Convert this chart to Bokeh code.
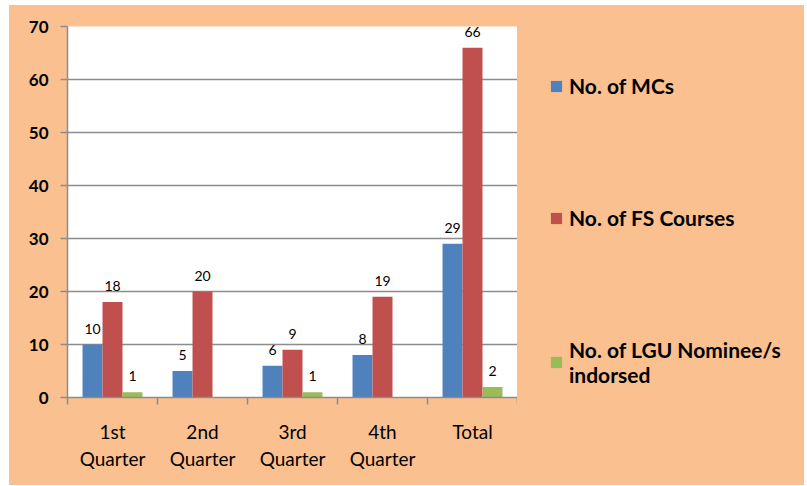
from bokeh.plotting import figure
from bokeh.models import (ColumnDataSource, FixedTicker, LabelSet, Legend, LegendItem, Range1d)
from bokeh.layouts import row
from bokeh.core.properties import value
from bokeh.embed import file_html
from bokeh.resources import INLINE

categories = ["1st\nQuarter", "2nd\nQuarter", "3rd\nQuarter", "4th\nQuarter", "Total"]
mcs = [10, 5, 6, 8, 29]
fs_courses = [18, 20, 9, 19, 66]
lgu_nominees = [1, 0, 1, 0, 2]
series_names = ["No. of MCs", "No. of FS Courses", "No. of LGU Nominee/s\nindorsed"]
colors = ["#4F81BD", "#C0504D", "#9BBB59"]
y_ticks = [0, 10, 20, 30, 40, 50, 60, 70]

BG = "#FAC090"
GRID = "#8C8C8C"
FONT = "Lato"

p = figure(width=508, height=480, output_backend="svg", toolbar_location=None,
           x_range=Range1d(0, len(categories)), y_range=Range1d(0, 70),
           min_border_left=58, min_border_top=21, min_border_right=0, min_border_bottom=88)
p.border_fill_color = BG
p.background_fill_color = "white"
p.outline_line_color = None

bar_w = 0.222
centers = [i + 0.5 for i in range(len(categories))]
for k, vals in enumerate([mcs, fs_courses, lgu_nominees]):
    xs = [c + (k - 1) * bar_w for c in centers]
    src = ColumnDataSource(dict(x=xs, top=vals))
    p.vbar(x="x", top="top", width=bar_w, bottom=0, source=src,
           fill_color=colors[k], line_color=None)
    lsrc = ColumnDataSource(dict(x=[x for x, v in zip(xs, vals) if v > 0],
                                 y=[v for v in vals if v > 0],
                                 lab=[str(v) for v in vals if v > 0]))
    p.add_layout(LabelSet(x="x", y="y", text="lab", source=lsrc, y_offset=11,
                          text_align="center", text_baseline="alphabetic",
                          text_font=value(FONT), text_font_size="14px", text_color="black"))

# x axis: labels at centers, tick marks at category boundaries
p.xaxis.ticker = FixedTicker(ticks=centers, minor_ticks=list(range(len(categories) + 1)))
p.xaxis.major_label_overrides = {c: lab for c, lab in zip(centers, categories)}
p.xaxis.major_tick_out = 0
p.xaxis.major_tick_in = 0
p.xaxis.minor_tick_out = 7
p.xaxis.minor_tick_in = 0
p.xaxis.minor_tick_line_color = GRID
p.xaxis.minor_tick_line_width = 1.5
p.xaxis.axis_line_color = GRID
p.xaxis.axis_line_width = 1.5
p.xaxis.major_label_text_font = FONT
p.xaxis.major_label_text_font_size = "19px"
p.xaxis.major_label_text_color = "black"
p.xaxis.major_label_standoff = 15
p.xgrid.grid_line_color = None

p.yaxis.ticker = FixedTicker(ticks=y_ticks, minor_ticks=[])
p.yaxis.major_tick_out = 7
p.yaxis.major_tick_in = 0
p.yaxis.major_tick_line_color = GRID
p.yaxis.major_tick_line_width = 1.5
p.yaxis.axis_line_color = GRID
p.yaxis.axis_line_width = 1.5
p.yaxis.major_label_text_font = FONT
p.yaxis.major_label_text_font_style = "bold"
p.yaxis.major_label_text_font_size = "17px"
p.yaxis.major_label_text_color = "black"
p.yaxis.major_label_standoff = 12
p.ygrid.grid_line_color = GRID
p.ygrid.grid_line_width = 1.5

# legend panel (right side); swatch proxies are zero-height bars outside the view
lf = figure(width=287, height=480, output_backend="svg", toolbar_location=None,
            x_range=Range1d(0, 1), y_range=Range1d(0, 1),
            x_axis_location=None, y_axis_location=None,
            min_border_left=0, min_border_right=0, min_border_top=0, min_border_bottom=0)
lf.border_fill_color = BG
lf.background_fill_alpha = 0
lf.outline_line_color = None
lf.grid.grid_line_color = None
leg_renderers = [lf.vbar(x=[5], top=[0], width=0.1, fill_color=c, line_color=None) for c in colors]

legend = Legend(items=[LegendItem(label=n, renderers=[r]) for n, r in zip(series_names, leg_renderers)],
                location=(32, 10), orientation="vertical",
                glyph_width=14, glyph_height=14, label_standoff=6, spacing=107,
                padding=0, margin=0, border_line_color=None, background_fill_alpha=0,
                label_text_font=FONT, label_text_font_style="bold",
                label_text_font_size="21px", label_text_color="black")
lf.add_layout(legend, "center")

layout = row(p, lf, spacing=0)
layout.margin = (5, 0, 0, 9)
layout.styles = {"background-color": BG}

open("out.html", "w").write(file_html(layout, INLINE))
